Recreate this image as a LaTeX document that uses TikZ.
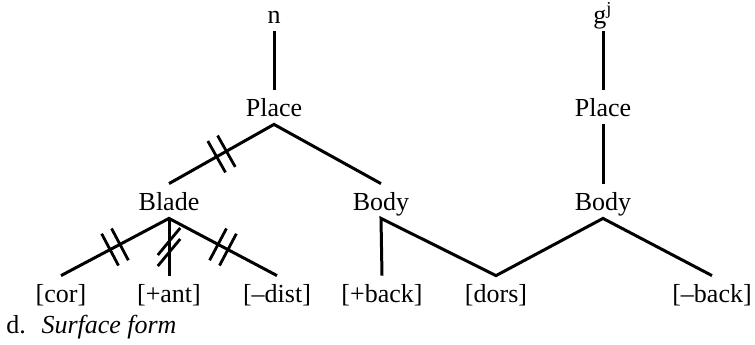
\documentclass[tikz,border=0pt]{standalone}
\usepackage{fontspec}
\setmainfont{Liberation Serif}
\usetikzlibrary{decorations.markings}

\begin{document}
\begin{tikzpicture}[x=0.5pt, y=-0.5pt,
    lbl/.style={anchor=base, inner xsep=1pt, inner ysep=4pt, text height=9pt, text depth=0pt, font=\fontsize{13}{15}\selectfont},
    tie/.style={line width=1.5pt, line join=miter},
    cut/.style={postaction={decorate, decoration={markings, mark=at position 0.5 with {
        \draw[line width=1.4pt] (-2.8pt,-9pt) -- (-2.8pt,9pt);
        \draw[line width=1.4pt] (2.8pt,-9pt) -- (2.8pt,9pt);}}}},
    cutv/.style={postaction={decorate, decoration={markings, mark=at position 0.5 with {
        \draw[line width=1.4pt] (9.5pt,-5.6pt) -- (-4pt,5.6pt);
        \draw[line width=1.4pt] (4pt,-5.6pt) -- (-9.5pt,5.6pt);}}}}
  ]
  \useasboundingbox (0,0) rectangle (755,344);
  % segments
  \node[lbl] (nseg)   at (274,23)  {n};
  \node[lbl] (gseg)   at (603,23)  {g\textsuperscript{j}};
  % place and articulators
  \node[lbl] (placeL) at (274,116) {Place};
  \node[lbl] (placeR) at (603,116) {Place};
  \node[lbl] (blade)  at (169,210) {Blade};
  \node[lbl] (bodyL)  at (381,210) {Body};
  \node[lbl] (bodyR)  at (603,210) {Body};
  % features
  \node[lbl] (cor)    at (61,302)  {[cor]};
  \node[lbl] (ant)    at (169,302) {[+ant]};
  \node[lbl] (dist)   at (277,302) {[--dist]};
  \node[lbl] (pback)  at (382,302) {[+back]};
  \node[lbl] (dors)   at (496,302) {[dors]};
  \node[lbl] (mback)  at (712,302) {[--back]};
  \node[anchor=base west, inner sep=0pt, font=\fontsize{13}{15}\selectfont] (caption) at (6,333) {d.\hspace{0.6em}\textit{Surface form}};
  % association lines
  \draw[tie] (nseg) -- (placeL);
  \draw[tie] (gseg) -- (placeR);
  \draw[tie] (placeR) -- (bodyR);
  \draw[tie] (blade.north) -- (placeL.south) -- (bodyL.north);
  \draw[tie] (cor.north) -- (blade.south) -- (dist.north);
  \draw[tie] (blade.south) -- (ant.north);
  \draw[tie] (pback.north) -- (bodyL.south) -- (dors.north) -- (bodyR.south) -- (mback.north);
  % delinked lines
  \path[cut] (placeL.south) -- (blade.north);
  \path[cut] (blade.south) -- (cor.north);
  \path[cut] (blade.south) -- (dist.north);
  \path[cutv] (blade.south) -- (ant.north);
\end{tikzpicture}
\end{document}
